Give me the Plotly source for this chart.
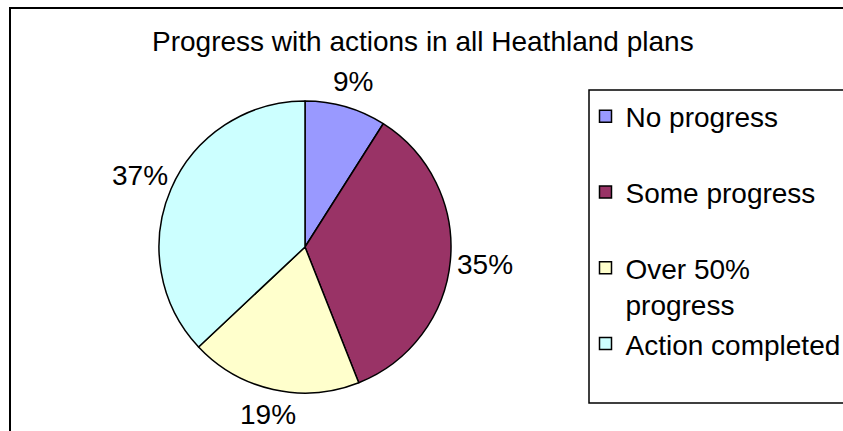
import math
import plotly.graph_objects as go

# ---- data ----
categories = ["No progress", "Some progress", "Over 50% progress", "Action completed"]
legend_labels = ["No progress<br>&nbsp;", "Some progress<br>&nbsp;", "Over 50%<br>progress", "Action completed<br>&nbsp;"]
values = [9, 35, 19, 37]
colors = ["#9999FF", "#993366", "#FFFFCC", "#CCFFFF"]
title_text = "Progress with actions in all Heathland plans"

W, H = 843, 431
FONT = "Liberation Sans, Arial, sans-serif"

# pie geometry (pixels)
CX, CY, R = 305, 247, 146

fig = go.Figure(
    go.Pie(
        labels=legend_labels,
        values=values,
        customdata=categories,
        sort=False,
        direction="clockwise",
        rotation=0,
        marker=dict(colors=colors, line=dict(color="black", width=1.5)),
        textinfo="none",
        hovertemplate="%{customdata}: %{percent}<extra></extra>",
        domain=dict(x=[(CX - R) / W, (CX + R) / W], y=[(H - CY - R) / H, (H - CY + R) / H]),
    )
)

# percentage labels placed outside each slice, derived from the data
total = sum(values)
annotations = []
cum = 0.0
for v in values:
    mid = (cum + v / 2) / total
    cum += v
    theta = 2 * math.pi * mid
    lr = R + 23 + 12 * abs(math.sin(theta))
    px = CX + lr * math.sin(theta)
    py = CY - lr * math.cos(theta)
    annotations.append(
        dict(
            text=f"{round(100 * v / total)}%",
            x=px / W,
            y=1 - py / H,
            xref="paper",
            yref="paper",
            xanchor="center",
            yanchor="middle",
            showarrow=False,
            font=dict(family=FONT, size=28, color="black"),
        )
    )

fig.update_layout(
    width=W,
    height=H,
    margin=dict(l=0, r=0, t=0, b=0, autoexpand=False),
    paper_bgcolor="white",
    plot_bgcolor="white",
    font=dict(family=FONT, size=28, color="black"),
    title=dict(
        text=title_text,
        x=152 / W,
        xanchor="left",
        xref="paper",
        y=1 - 41 / H,
        yanchor="middle",
        yref="paper",
        font=dict(family=FONT, size=28, color="black"),
    ),
    annotations=annotations,
    showlegend=True,
    legend=dict(
        x=585.5 / W,
        xanchor="left",
        y=1 - 91.5 / H,
        yanchor="top",
        borderwidth=0,
        bgcolor="rgba(0,0,0,0)",
        valign="top",
        font=dict(family=FONT, size=28, color="black"),
        traceorder="normal",
    ),
    shapes=[
        # outer chart frame
        dict(
            type="rect",
            xref="paper",
            yref="paper",
            x0=10 / W,
            x1=1.05,
            y0=-0.05,
            y1=1 - 8 / H,
            line=dict(color="black", width=2),
            fillcolor="rgba(0,0,0,0)",
            layer="below",
        ),
        # legend box
        dict(
            type="rect",
            xref="paper",
            yref="paper",
            x0=589 / W,
            x1=1.05,
            y0=1 - 403 / H,
            y1=1 - 90 / H,
            line=dict(color="black", width=1.5),
            fillcolor="white",
            layer="below",
        ),
    ],
)

fig.write_html(
    "out.html",
    config={"displayModeBar": False},
    post_script="document.body.style.margin='0';document.body.style.overflow='hidden';",
)
